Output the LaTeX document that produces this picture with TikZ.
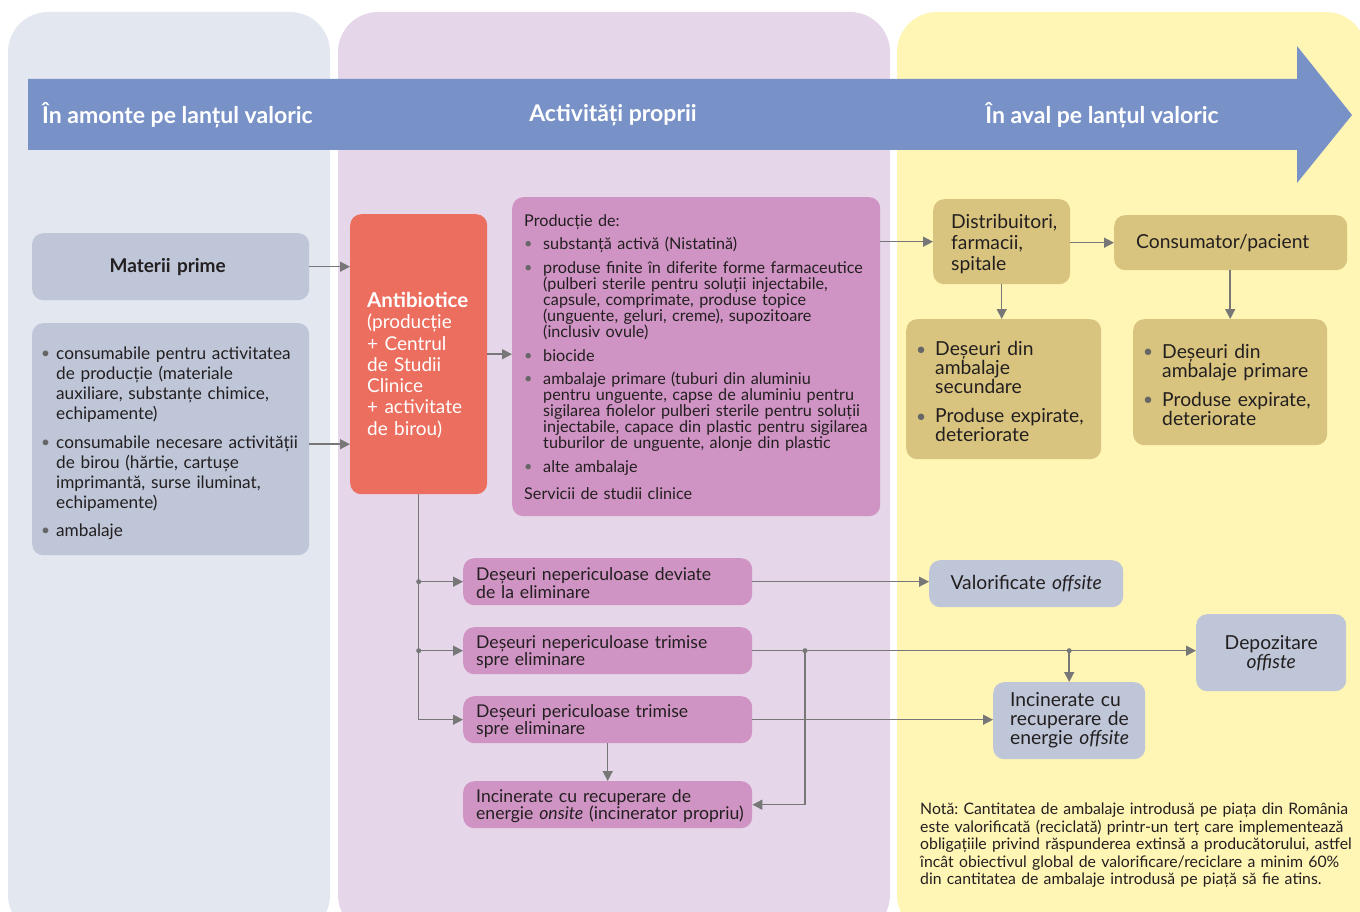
\documentclass[tikz,border=0pt]{standalone}
\usepackage{fontspec}
\setmainfont{Lato}
\usetikzlibrary{arrows.meta}
\frenchspacing
\definecolor{bgL}{HTML}{E3E7F0}
\definecolor{bgM}{HTML}{E6D6E9}
\definecolor{bgR}{HTML}{FFF5B5}
\definecolor{band}{HTML}{7892C8}
\definecolor{gbox}{HTML}{BEC6D8}
\definecolor{coral}{HTML}{EC6E5F}
\definecolor{mauve}{HTML}{CF94C4}
\definecolor{khaki}{HTML}{D8C47E}
\definecolor{linec}{HTML}{777777}
\definecolor{txt}{HTML}{231F20}
\definecolor{bulc}{HTML}{666666}
\newcommand\mybul[1]{\makebox[#1][l]{\textcolor{bulc}{\raisebox{0.03em}{\scalebox{0.9}{\textbullet}}}}}
\newcommand\bitem[2]{\par\hangindent=#1\hangafter=1\noindent\mybul{#1}#2\par}
\newcommand\gap[1]{\vspace{#1}}
\let\nl\newline
\begin{document}
\frenchspacing
\begin{tikzpicture}[x=1pt,y=-1pt,
  box/.style={rounded corners=11pt, inner xsep=0pt, inner ysep=0pt, anchor=north west, text=txt, align=left},
  arr/.style={draw=linec, line width=1.5pt, -{Triangle[length=10pt,width=10pt]}},
  hdr/.style={text=white, font=\fontsize{23}{26}\selectfont\bfseries, inner sep=0pt},
  dot/.style={circle, fill=linec, inner sep=0pt, minimum size=5pt}]
\useasboundingbox (0,0) rectangle (1360,912);
\begin{scope}
\clip (0,0) rectangle (1360,912);
\fill[bgL, rounded corners=40pt] (8,12) rectangle (330,935);
\fill[bgM, rounded corners=40pt] (338,12) rectangle (890,935);
\fill[bgR, rounded corners=40pt] (897,12) rectangle (1366,935);
\end{scope}
\fill[band] (28,79) -- (1297,79) -- (1297,46) -- (1352,115) -- (1297,183) -- (1297,150) -- (28,150) -- cycle;
\node[hdr, anchor=west] (h1) at (42,115) {În amonte pe lanțul valoric};
\node[hdr] (h2) at (613,115) {Activități proprii};
\node[hdr] (h3) at (1102,115) {În aval pe lanțul valoric};

% left column
\node[box, fill=gbox, minimum width=277pt, text width=277pt, minimum height=67pt, align=center,
  font=\fontsize{19}{22}\selectfont\bfseries] (mp) at (32,233) {Materii prime\hspace*{6pt}};
\node[box, fill=gbox, minimum width=277pt, text width=277pt, minimum height=232pt,
  font=\fontsize{17.2}{20}\selectfont] (cons) at (32,323) {\leftskip=9pt
  \bitem{15pt}{consumabile pentru activitatea\nl de producție (materiale\nl auxiliare, substanțe chimice,\nl echipamente)}\gap{9pt}
  \bitem{15pt}{consumabile necesare activității\nl de birou (hărtie, cartușe\nl imprimantă, surse iluminat,\nl echipamente)}\gap{8pt}
  \bitem{15pt}{ambalaje}};

% middle column
\node[box, fill=coral, minimum width=137pt, text width=137pt, minimum height=280pt, text=white,
  font=\fontsize{19}{21.3}\selectfont] (ab) at (350,214) {\leftskip=17pt\noindent\rule{0pt}{37pt}{\fontsize{20.5}{21.3}\selectfont\bfseries Antibiotice}\nl (producție\nl + Centrul\nl de Studii\nl Clinice\nl + activitate\nl de birou)\par};
\node[box, fill=mauve, minimum width=368pt, text width=368pt, minimum height=319pt,
  font=\fontsize{16.2}{16}\selectfont] (prod) at (512,197) {\leftskip=12pt
  \noindent Producție de:\par\gap{7pt}
  \bitem{19pt}{substanță activă (Nistatină)}\gap{8pt}
  \bitem{19pt}{produse finite în diferite forme farmaceutice\nl (pulberi sterile pentru soluții injectabile,\nl capsule, comprimate, produse topice\nl (unguente, geluri, creme), supozitoare\nl (inclusiv ovule)}\gap{8pt}
  \bitem{19pt}{biocide}\gap{7pt}
  \bitem{19pt}{ambalaje primare (tuburi din aluminiu\nl pentru unguente, capse de aluminiu pentru\nl sigilarea fiolelor pulberi sterile pentru soluții\nl injectabile, capace din plastic pentru sigilarea\nl tuburilor de unguente, alonje din plastic}\gap{8pt}
  \bitem{19pt}{alte ambalaje}\gap{11pt}
  \noindent Servicii de studii clinice\par};

\tikzset{wbox/.style={box, fill=mauve, minimum width=289pt, text width=289pt, minimum height=47pt,
  font=\fontsize{17.6}{17.5}\selectfont}}
\node[wbox] (w1) at (463,558) {\leftskip=13pt\noindent\rule{0pt}{16pt}Deșeuri nepericuloase deviate\nl de la eliminare\par};
\node[wbox] (w2) at (463,627) {\leftskip=13pt\noindent\rule{0pt}{16pt}Deșeuri nepericuloase trimise\nl spre eliminare\par};
\node[wbox] (w3) at (463,696) {\leftskip=13pt\noindent\rule{0pt}{16pt}Deșeuri periculoase trimise\nl spre eliminare\par};
\node[wbox] (w4) at (463,781) {\leftskip=13pt\noindent\rule{0pt}{16pt}Incinerate cu recuperare de\nl energie \textit{onsite} (incinerator propriu)\par};

% right column
\tikzset{rfont/.style={font=\fontsize{19.3}{19}\selectfont}}
\node[box, fill=khaki, minimum width=137pt, text width=137pt, minimum height=85pt,
  font=\fontsize{19.3}{21}\selectfont] (dist) at (933,199) {\leftskip=18pt\noindent\rule{0pt}{18pt}Distribuitori,\nl farmacii,\nl spitale\par};
\node[box, fill=khaki, rfont, minimum width=233pt, text width=233pt, minimum height=55pt] (cp) at (1114,215) {\leftskip=22pt\noindent Consumator/pacient\par};
\node[box, fill=khaki, rfont, minimum width=195pt, text width=195pt, minimum height=140pt] (d1) at (906,319) {\leftskip=10pt
  \bitem{19pt}{Deșeuri din\nl ambalaje\nl secundare}\gap{10pt}
  \bitem{19pt}{Produse expirate,\nl deteriorate}};
\node[box, fill=khaki, rfont, minimum width=194pt, text width=194pt, minimum height=126pt] (d2) at (1133,319) {\leftskip=10pt
  \bitem{19pt}{Deșeuri din\nl ambalaje primare}\gap{10pt}
  \bitem{19pt}{Produse expirate,\nl deteriorate}};

\node[box, fill=gbox, rfont, minimum width=194pt, text width=194pt, minimum height=47pt, align=center] (val) at (929,560) {Valorificate \textit{offsite}};
\node[box, fill=gbox, rfont, minimum width=150pt, text width=150pt, minimum height=77pt, align=center] (dep) at (1196,614) {Depozitare\\\textit{offiste}};
\node[box, fill=gbox, rfont, minimum width=152pt, text width=152pt, minimum height=77pt] (inc) at (993,682) {\leftskip=17pt\noindent Incinerate cu\nl recuperare de\nl energie \textit{offsite}\par};

\node[anchor=north west, inner sep=0pt, text=txt, align=left, text width=445pt,
  font=\fontsize{15.8}{17.5}\selectfont] (note) at (920,803) {\noindent Notă: Cantitatea de ambalaje introdusă pe piața din România\nl este valorificată (reciclată) printr-un terț care implementează\nl obligațiile privind răspunderea extinsă a producătorului, astfel\nl încât obiectivul global de valorificare/reciclare a minim 60\%\nl din cantitatea de ambalaje introdusă pe piață să fie atins.\par};

% connectors
\draw[arr] (mp.east) -- (mp.east -| ab.west);
\draw[arr] ([yshift=-5pt]cons.east) -- ([yshift=-5pt]cons.east -| ab.west);
\draw[arr] (ab.east) -- (ab.east -| prod.west);
\draw[arr] (dist.west -| prod.east) -- (dist.west);
\draw[arr] (dist.east |- cp.west) -- (cp.west);
\draw[arr] (dist.south) -- (dist.south |- d1.north);
\draw[arr] (cp.south -| d2.north) -- (d2.north);

\coordinate (j1) at (ab.south |- w1.west);
\coordinate (j2) at (ab.south |- w2.west);
\draw[arr] (ab.south) |- (w3.west);
\draw[arr] (j1) -- (w1.west);
\draw[arr] (j2) -- (w2.west);
\node[dot] (dj1) at (j1) {};
\node[dot] (dj2) at (j2) {};
\draw[arr] (w3.south) -- (w4.north);

\draw[arr] (w1.east) -- (w1.east -| val.west);
\draw[arr] (w2.east) -- (w2.east -| dep.west);
\coordinate (j3) at (805,0 |- w2.east);
\coordinate (j4) at (inc.north |- w2.east);
\draw[arr] (j3) |- (w4.east);
\draw[arr] (j4) -- (inc.north);
\node[dot] (dj3) at (j3) {};
\node[dot] (dj4) at (j4) {};
\draw[arr] (w3.east) -- (w3.east -| inc.west);
\end{tikzpicture}
\end{document}
